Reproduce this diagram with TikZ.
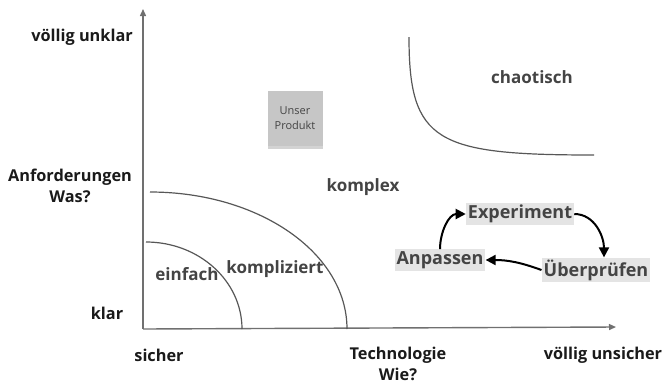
\documentclass[tikz,border=0pt]{standalone}
\usepackage{fontspec}
\setmainfont{Open Sans}
\usepackage{xcolor}
\usepackage{tikz}
\usetikzlibrary{arrows.meta,positioning,shadows}

\definecolor{axisgray}{HTML}{707070}
\definecolor{textdark}{HTML}{1A1A1A}
\definecolor{zonegray}{HTML}{444444}
\definecolor{boxgray}{HTML}{C6C6C6}
\definecolor{stepgray}{HTML}{E4E4E4}

\begin{document}
\begin{tikzpicture}[
    x=1pt, y=-1pt,
    axis/.style={draw=axisgray, line width=1.4pt, -{Triangle[length=7pt,width=6pt]}},
    border/.style={draw=zonegray!90, line width=1.2pt},
    axislabel/.style={text=textdark, font=\fontsize{16.3}{21}\selectfont\bfseries, align=center, inner sep=0pt},
    zone/.style={text=zonegray, font=\fontsize{17}{22}\selectfont\bfseries, inner sep=0pt},
    note/.style={rectangle, fill=boxgray, minimum width=55pt, minimum height=55pt, align=center,
        text=zonegray, font=\fontsize{11}{15}\selectfont, inner sep=1pt,
        drop shadow={shadow xshift=0pt, shadow yshift=-3pt, opacity=0.35}},
    stepbox/.style={rectangle, fill=stepgray, text=zonegray, font=\fontsize{18}{22}\selectfont\bfseries, inner sep=2pt},
    cycle/.style={line width=2pt, -{Triangle[length=10pt,width=10pt]}}
]
    \useasboundingbox (0,0) rectangle (665,384);

    % Axes
    \coordinate (origin) at (143,329);
    \coordinate (ytop) at (143,9);
    \coordinate (xend) at (616,327);
    \draw[axis] (origin) -- (ytop);
    \draw[axis] (origin) -- (xend);

    % Axis labels
    \node[axislabel, anchor=east] (unklar) at (133,37) {völlig unklar};
    \node[axislabel] (anforderungen) at (70,186) {Anforderungen\\Was?};
    \node[axislabel] (klar) at (107,313) {klar};
    \node[axislabel] (sicher) at (159,355) {sicher};
    \node[axislabel] (technologie) at (398,364) {Technologie\\Wie?};
    \node[axislabel] (unsicher) at (603,355) {völlig unsicher};

    % Zone borders
    \draw[border] (146,242) .. controls (199,242) and (242,281) .. (242,329);
    \draw[border] (150,192) .. controls (259,192) and (347,253) .. (347,329);
    \draw[border] (409,37) .. controls (409,142) and (436,155) .. (594,155);

    % Zones
    \node[zone] (einfach) at (187,274) {einfach};
    \node[zone] (kompliziert) at (275,269) {kompliziert};
    \node[zone] (komplex) at (363,187) {komplex};
    \node[zone] (chaotisch) at (532,77) {chaotisch};

    % Product
    \node[note] (produkt) at (295,118) {Unser\\Produkt};

    % Cycle
    \node[stepbox] (experiment) at (520,214) {Experiment};
    \node[stepbox] (ueberpruefen) at (596,270) {Überprüfen};
    \node[stepbox] (anpassen) at (440,260) {Anpassen};

    \draw[cycle] (experiment.east) to[out=0, in=90] ([xshift=8pt]ueberpruefen.north);
    \draw[cycle] (ueberpruefen.west) to[out=160, in=0] (anpassen.east);
    \draw[cycle] (anpassen.north) to[out=90, in=180] (experiment.west);
\end{tikzpicture}
\end{document}
